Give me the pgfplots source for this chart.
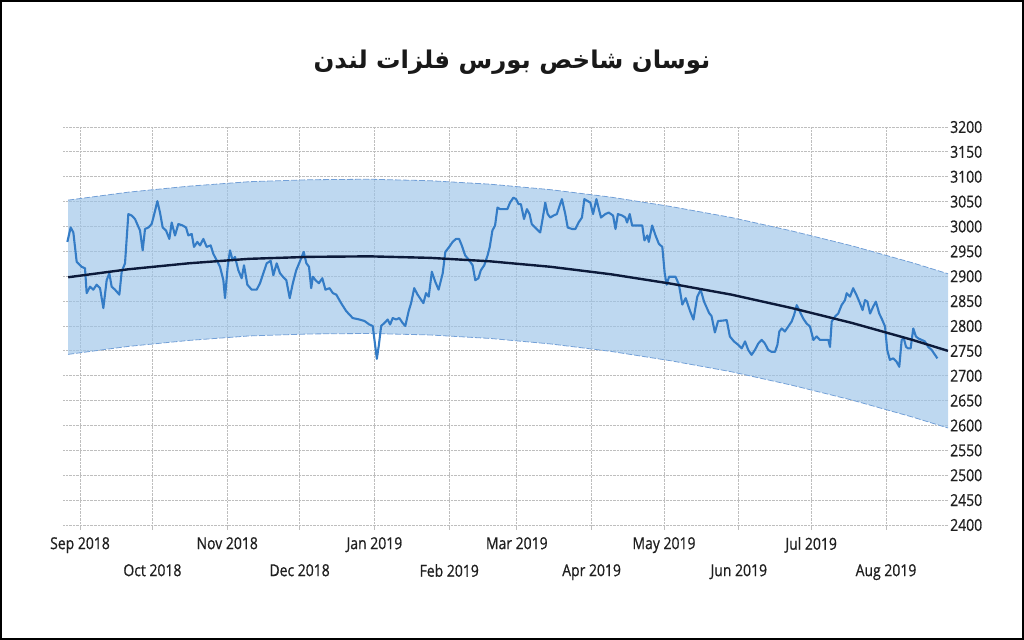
\documentclass[border=0pt]{standalone}
\usepackage{pgfplots}
\pgfplotsset{compat=1.18}
\usepackage{fontspec}
\setmainfont{Open Sans}
\newfontfamily\tickfont[FakeStretch=0.85,FakeBold=0.8]{Open Sans}
\newfontfamily\arabicfont[Script=Arabic]{DejaVu Sans}
\TeXXeTstate=1
\definecolor{bandfill}{RGB}{155,195,232}
\definecolor{bandedge}{RGB}{115,160,215}
\definecolor{dataline}{RGB}{52,124,198}
\definecolor{trend}{RGB}{12,26,58}
\definecolor{gridc}{RGB}{190,190,190}
\begin{document}
\begin{tikzpicture}
\draw[line width=2bp, black] (1bp,1bp) rectangle (1023bp,639bp);
\node[font=\arabicfont\bfseries\fontsize{24.5}{28}\selectfont, text=black!90] at (512bp,578bp) {\beginR نوسان شاخص بورس فلزات لندن\endR};
\begin{axis}[
  at={(63bp,115bp)}, anchor=south west,
  scale only axis, width=885bp, height=398bp,
  xmin=-7.05, xmax=359.7, ymin=2400, ymax=3200,
  axis line style={draw=none},
  xmajorgrids, ymajorgrids,
  major grid style={densely dotted, gridc, line width=0.9bp},
  ytick={2400,2450,...,3200},
  yticklabel pos=right,
  ytick style={draw=none},
  yticklabel style={anchor=west, inner sep=0pt, xshift=-3bp},
  /pgf/number format/1000 sep={},
  /pgf/number format/assume math mode=true,
  tick label style={font=\tickfont\fontsize{16.5}{18}\selectfont, text=black!88},
  xtick={0,61,122,181,242,303},
  xticklabels={Sep 2018,Nov 2018,Jan 2019,Mar 2019,May 2019,Jul 2019},
  extra x ticks={30,91,153,212,273,334},
  extra x tick labels={Oct 2018,Dec 2018,Feb 2019,Apr 2019,Jun 2019,Aug 2019},
  extra x tick style={grid=major, xticklabel style={yshift=-27bp}},
  xticklabel style={anchor=north, inner sep=0pt, yshift=-7bp},
  xtick pos=bottom,
  tick align=outside,
  major tick length=5bp,
  xtick style={draw=gridc, line width=0.8bp},
]
% regression channel (fill)
\addplot[fill=bandfill, fill opacity=0.65, draw=none] coordinates {
(-4.9,3053) (20,3069) (45,3081) (70,3090) (95,3094) (120,3095) (145,3092) (170,3085)
(195,3074) (220,3059) (245,3040) (270,3018) (295,2991) (320,2961) (345,2927) (359.7,2905)
(359.7,2595) (345,2617) (320,2651) (295,2681) (270,2708) (245,2730) (220,2749) (195,2764)
(170,2775) (145,2782) (120,2785) (95,2784) (70,2780) (45,2771) (20,2759) (-4.9,2743)
};
\addplot[bandedge, line width=0.8bp, dash pattern=on 6bp off 2bp] coordinates {
(-4.9,3053) (20,3069) (45,3081) (70,3090) (95,3094) (120,3095) (145,3092) (170,3085)
(195,3074) (220,3059) (245,3040) (270,3018) (295,2991) (320,2961) (345,2927) (359.7,2905)
};
\addplot[bandedge, line width=0.8bp, dash pattern=on 6bp off 2bp] coordinates {
(-4.9,2743) (20,2759) (45,2771) (70,2780) (95,2784) (120,2785) (145,2782) (170,2775)
(195,2764) (220,2749) (245,2730) (270,2708) (295,2681) (320,2651) (345,2617) (359.7,2595)
};
% index
\addplot[dataline, line width=2.1bp, line join=round] coordinates {
(-5.25,2969) (-3.87,2998) (-2.76,2988) (-1.38,2929) (0.69,2919) (2.07,2916) (2.76,2866) (4.14,2879)
(5.52,2873) (6.91,2883) (8.29,2876) (9.67,2836) (11.05,2892) (12.15,2906) (13.12,2879) (14.50,2873)
(16.30,2863) (17.27,2909) (18.65,2926) (20.03,3025) (21.41,3022) (22.79,3015) (24.86,2992) (25.97,2952)
(26.94,2995) (28.32,2998) (29.70,3005) (31.08,3031) (32.05,3051) (33.15,3028) (34.26,2998) (35.64,2992)
(37.02,2975) (37.99,3008) (39.37,2982) (40.75,3005) (42.55,3002) (43.93,2998) (44.89,2982) (46.28,2985)
(47.24,2959) (48.62,2969) (49.73,2962) (51.11,2975) (52.49,2959) (54.15,2962) (55.25,2945) (56.64,2932)
(58.02,2919) (59.40,2892) (60.09,2856) (61.19,2919) (62.16,2952) (63.27,2932) (64.23,2939) (65.61,2912)
(66.99,2896) (67.96,2922) (69.34,2883) (71.14,2873) (73.21,2873) (74.59,2886) (75.97,2906) (77.36,2926)
(79.01,2931) (80.12,2902) (81.50,2926) (82.88,2906)
(84.1,2899) (85.5,2892) (86.9,2856) (88.2,2886) (89.6,2912) (91.3,2932) (92.7,2949) (93.8,2926)
(94.9,2919) (95.8,2876) (96.5,2899) (97.6,2892) (99.0,2886) (100.4,2896) (101.7,2873) (103.4,2876)
(104.8,2866) (106.2,2863) (108.2,2846) (110.3,2830) (113.0,2816) (115.8,2813) (117.9,2810) (119.9,2803)
(121.3,2800) (122.0,2773) (123.0,2734) (123.8,2760) (124.8,2800) (126.1,2806) (127.5,2813) (128.5,2803)
(129.6,2816) (131.0,2813) (132.3,2816) (133.7,2806) (134.8,2800) (136.2,2830) (137.2,2846) (138.5,2876)
(139.9,2863) (141.3,2853) (142.3,2846) (143.4,2866) (144.5,2859) (145.8,2909) (147.2,2889) (148.6,2873)
(150.3,2906) (151.4,2949) (153.0,2959) (154.4,2969) (155.8,2975) (157.1,2975) (158.2,2962) (159.6,2942)
(161.3,2932) (162.7,2922) (163.8,2892) (165.1,2896) (166.1,2912) (167.5,2922) (168.9,2942) (169.8,2959)
(170.9,2992) (172.0,3002) (173.0,3038)
(174.1,3035) (175.5,3035) (177.1,3035) (178.2,3048) (179.6,3058) (180.7,3055) (181.7,3045) (182.7,3045)
(184.0,3015) (185.2,3035) (186.3,3025) (187.2,3005) (188.6,2998) (190.7,2988) (191.8,3018) (192.8,3048)
(193.8,3025) (194.9,3018) (196.2,3022) (197.6,3025) (198.7,3041) (199.7,3055) (201.1,3025) (202.1,2998)
(203.9,2995) (205.3,2995) (206.6,3008) (208.0,3018) (209.0,3055) (210.4,3051) (211.5,3048) (212.6,3025)
(214.0,3055) (215.0,3035) (215.9,3018) (217.7,3025) (219.1,3028) (220.9,3022) (221.9,2995) (222.9,3025)
(224.7,3022) (226.0,3018) (226.7,3008) (227.8,3025) (228.8,3002) (230.9,3002) (233.0,3002) (233.9,2972)
(235.1,2982) (235.7,2969) (237.1,3002) (238.5,2982) (239.9,2965) (241.3,2959) (242.3,2906) (243.1,2883)
(244.1,2899) (246.8,2899) (248.2,2883) (249.6,2843) (251.0,2856) (252.8,2830) (254.2,2813) (255.8,2859)
(257.2,2873) (258.6,2849) (260.7,2826) (261.7,2820) (263.1,2787) (264.4,2810)
(266.6,2811) (268.0,2812) (269.3,2779) (271.0,2769) (272.8,2762) (274.2,2755) (275.6,2769) (276.9,2752)
(278.3,2742) (279.7,2752) (281.1,2765) (282.5,2772) (283.8,2765) (285.2,2752) (286.6,2748) (288.0,2748)
(289.0,2762) (289.8,2789) (290.8,2795) (292.1,2789) (293.5,2799) (294.9,2809) (295.9,2822) (297.0,2842)
(298.3,2829) (299.7,2815) (301.1,2805) (302.5,2799) (303.9,2772) (305.3,2779) (306.6,2772) (308.7,2772)
(310.1,2772) (310.8,2758) (311.5,2809) (312.9,2819) (314.2,2825) (315.6,2842) (317.0,2852) (317.7,2866)
(319.1,2859) (320.4,2876) (321.8,2862) (323.2,2846) (324.3,2832) (325.3,2852) (326.3,2849) (327.4,2825)
(328.7,2839) (329.8,2849) (331.2,2825) (332.2,2815) (333.6,2799) (334.5,2752) (335.6,2732) (337.0,2735)
(338.4,2728) (339.5,2718) (340.5,2772) (341.4,2775) (342.3,2758) (343.2,2755) (344.2,2755) (345.3,2795)
(346.4,2779) (347.4,2775) (348.8,2772) (350.1,2769) (351.5,2758) (352.9,2752) (354.3,2742) (355.3,2735)
};
% trend
\addplot[trend, line width=2.4bp] coordinates {
(-4.9,2898) (20,2914) (45,2926) (70,2935) (95,2939) (120,2940) (145,2937) (170,2930)
(195,2919) (220,2904) (245,2885) (270,2863) (295,2836) (320,2806) (345,2772) (359.7,2750)
};
\end{axis}
\end{tikzpicture}
\end{document}
